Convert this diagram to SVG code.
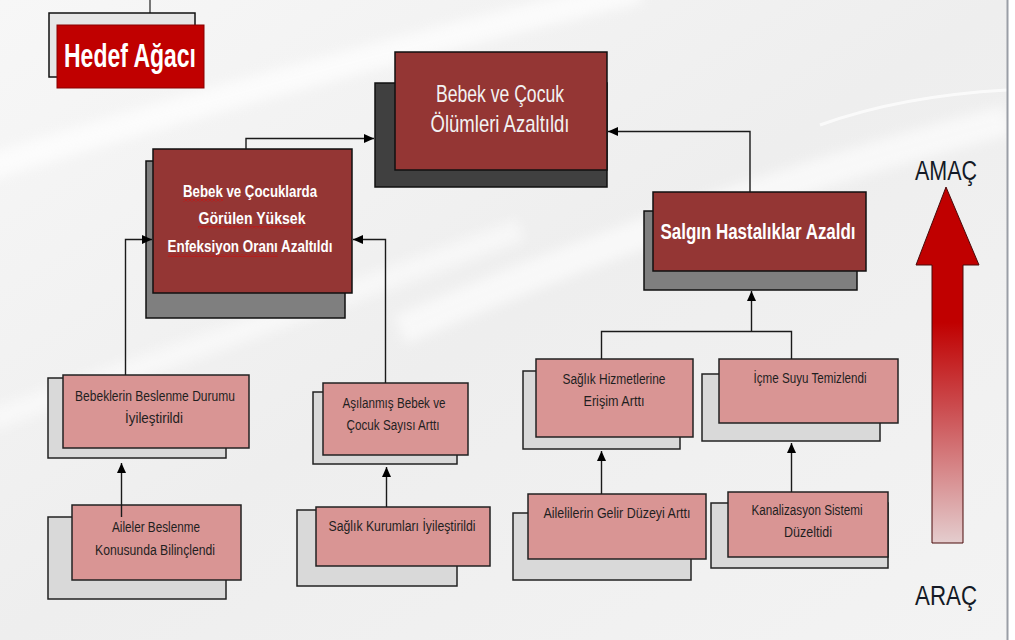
<svg xmlns="http://www.w3.org/2000/svg" width="1015" height="640" viewBox="0 0 1015 640">
<style>
.t{font-family:"Liberation Sans",Arial,sans-serif;text-anchor:middle}
.dark{fill:#943634;stroke:#111;stroke-width:1.5}
.pink{fill:#D99594;stroke:#222;stroke-width:1.5}
.back{fill:#D9D9D9;stroke:#222;stroke-width:1.5}
.gray{fill:#7F7F7F;stroke:#111;stroke-width:1.5}
.sm{font-size:14px;fill:#1F1F1F}
.wb{font-size:17px;font-weight:bold;fill:#FFFFFF}
.con{fill:none;stroke:#1a1a1a;stroke-width:1.4}
</style>
<defs>
<linearGradient id="bg" x1="0" y1="0" x2="1" y2="1">
<stop offset="0" stop-color="#F7F7F7"/>
<stop offset="0.5" stop-color="#EEEEEE"/>
<stop offset="1" stop-color="#F3F3F3"/>
</linearGradient>
<linearGradient id="ar" gradientUnits="userSpaceOnUse" x1="0" y1="187" x2="0" y2="543">
<stop offset="0" stop-color="#C00000"/>
<stop offset="0.38" stop-color="#C00000"/>
<stop offset="0.62" stop-color="#CB4C4F"/>
<stop offset="1" stop-color="#E4CDCE"/>
</linearGradient>
<filter id="blur" x="-10%" y="-50%" width="120%" height="200%"><feGaussianBlur stdDeviation="6"/></filter>
<pattern id="sq" width="4" height="3" patternUnits="userSpaceOnUse"><path d="M0 0.5 L2 2.5 L4 0.5" fill="none" stroke="#E00000" stroke-width="0.8"/></pattern>
<marker id="arr" markerUnits="userSpaceOnUse" markerWidth="11" markerHeight="10" refX="10" refY="4.5" orient="auto"><path d="M0 0 L10 4.5 L0 9 Z" fill="#000"/></marker>
</defs>

<g id="background">
<rect x="0" y="0" width="1015" height="640" fill="#FFFFFF"/>
<rect x="0" y="0" width="1007" height="640" fill="url(#bg)"/>
<path d="M-20 170 Q 300 70 640 -10" fill="none" stroke="#FFFFFF" stroke-width="26" opacity="0.7" filter="url(#blur)"/>
<path d="M400 330 Q 700 200 1007 120" fill="none" stroke="#FFFFFF" stroke-width="30" opacity="0.6" filter="url(#blur)"/>
<path d="M-10 420 Q 250 330 520 230" fill="none" stroke="#FFFFFF" stroke-width="22" opacity="0.5" filter="url(#blur)"/>
<path d="M820 125 Q 900 96 1007 90" fill="none" stroke="#FFFFFF" stroke-width="3" opacity="0.7"/>
<line x1="1007.5" y1="0" x2="1007.5" y2="640" stroke="#9A9EA6" stroke-width="2"/>
</g>

<g id="title">
<line x1="150" y1="0" x2="150" y2="13" stroke="#222" stroke-width="1.2"/>
<rect x="49" y="13" width="146" height="64" fill="#E6E6E6" stroke="#111" stroke-width="1.5"/>
<rect x="57" y="25" width="147" height="63" fill="#C00000" stroke="#8a0000" stroke-width="1"/>
<text class="t" x="130" y="67" font-size="33" font-weight="bold" fill="#FFFFFF" textLength="132" lengthAdjust="spacingAndGlyphs">Hedef Ağacı</text>
</g>

<g id="node-top">
<rect x="375" y="83" width="232" height="104" fill="#404040" stroke="#111" stroke-width="1.5"/>
<rect class="dark" x="395" y="52" width="212" height="118"/>
<text class="t" x="500" y="102" font-size="24" fill="#F2F2F2" textLength="128" lengthAdjust="spacingAndGlyphs">Bebek ve Çocuk</text>
<text class="t" x="500" y="132" font-size="24" fill="#F2F2F2" textLength="139" lengthAdjust="spacingAndGlyphs">Ölümleri Azaltıldı</text>
</g>

<g id="node-enfeksiyon">
<rect class="gray" x="146" y="161" width="199" height="157"/>
<rect class="dark" x="153" y="149" width="199" height="144"/>
<text class="t wb" x="250" y="197" textLength="134" lengthAdjust="spacingAndGlyphs">Bebek ve Çocuklarda</text>
<text class="t wb" x="252" y="224" textLength="107" lengthAdjust="spacingAndGlyphs">Görülen Yüksek</text>
<text class="t wb" x="250" y="252" textLength="165" lengthAdjust="spacingAndGlyphs">Enfeksiyon Oranı Azaltıldı</text>
<rect x="183" y="199" width="40" height="3" fill="url(#sq)"/>
<rect x="198" y="226" width="107" height="3" fill="url(#sq)"/>
<rect x="168" y="254" width="110" height="3" fill="url(#sq)"/>
</g>

<g id="node-salgin">
<rect class="gray" x="644" y="211" width="213" height="79"/>
<rect class="dark" x="653" y="192" width="213" height="79"/>
<text class="t" x="758" y="239" font-size="22" font-weight="bold" fill="#FFFFFF" textLength="195" lengthAdjust="spacingAndGlyphs">Salgın Hastalıklar Azaldı</text>
</g>

<g id="node-beslenme">
<rect class="back" x="48" y="378" width="178" height="80"/>
<rect class="pink" x="63" y="375" width="186" height="73"/>
<text class="t sm" x="155" y="401" textLength="160" lengthAdjust="spacingAndGlyphs">Bebeklerin Beslenme Durumu</text>
<text class="t sm" x="154" y="423" textLength="58" lengthAdjust="spacingAndGlyphs">İyileştirildi</text>
</g>

<g id="node-aileler">
<rect class="back" x="48" y="517" width="178" height="82"/>
<rect class="pink" x="72" y="505" width="169" height="75"/>
<text class="t sm" x="156" y="532" textLength="88" lengthAdjust="spacingAndGlyphs">Aileler Beslenme</text>
<text class="t sm" x="155" y="555" textLength="120" lengthAdjust="spacingAndGlyphs">Konusunda Bilinçlendi</text>
</g>

<g id="node-asilanmis">
<rect class="back" x="313" y="392" width="144" height="72"/>
<rect class="pink" x="323" y="383" width="145" height="72"/>
<text class="t sm" x="394" y="408" textLength="103" lengthAdjust="spacingAndGlyphs">Aşılanmış Bebek ve</text>
<text class="t sm" x="393" y="430" textLength="93" lengthAdjust="spacingAndGlyphs">Çocuk Sayısı Arttı</text>
</g>

<g id="node-saglik-kurumlari">
<rect class="back" x="297" y="510" width="160" height="76"/>
<rect class="pink" x="316" y="507" width="174" height="59"/>
<text class="t sm" x="402" y="531" textLength="147" lengthAdjust="spacingAndGlyphs">Sağlık Kurumları İyileştirildi</text>
</g>

<g id="node-saglik-hizmet">
<rect class="back" x="523" y="371" width="157" height="78"/>
<rect class="pink" x="536" y="359" width="157" height="78"/>
<text class="t sm" x="614" y="384" textLength="103" lengthAdjust="spacingAndGlyphs">Sağlık Hizmetlerine</text>
<text class="t sm" x="614" y="406" textLength="61" lengthAdjust="spacingAndGlyphs">Erişim Arttı</text>
</g>

<g id="node-icme">
<rect class="back" x="702" y="374" width="178" height="67"/>
<rect class="pink" x="719" y="359" width="179" height="64"/>
<text class="t sm" x="810" y="383" textLength="113" lengthAdjust="spacingAndGlyphs">İçme Suyu Temizlendi</text>
</g>

<g id="node-gelir">
<rect class="back" x="513" y="513" width="178" height="67"/>
<rect class="pink" x="528" y="494" width="178" height="65"/>
<text class="t sm" x="617" y="518" textLength="147" lengthAdjust="spacingAndGlyphs">Ailelilerin Gelir Düzeyi Arttı</text>
</g>

<g id="node-kanalizasyon">
<rect class="back" x="711" y="503" width="177" height="65"/>
<rect class="pink" x="728" y="492" width="160" height="65"/>
<text class="t sm" x="807" y="515" textLength="111" lengthAdjust="spacingAndGlyphs">Kanalizasyon Sistemi</text>
<text class="t sm" x="808" y="537" textLength="48" lengthAdjust="spacingAndGlyphs">Düzeltidi</text>
</g>

<g id="connectors">
<path class="con" d="M246 149 V138.5 H374" marker-end="url(#arr)"/>
<path class="con" d="M750 192 V131.5 H608" marker-end="url(#arr)"/>
<path class="con" d="M125.5 375 V239.5 H152" marker-end="url(#arr)"/>
<path class="con" d="M385.5 383 V239.5 H353" marker-end="url(#arr)"/>
<path class="con" d="M121.5 517 V463" marker-end="url(#arr)"/>
<path class="con" d="M386.5 507 V467" marker-end="url(#arr)"/>
<path class="con" d="M601.5 359 V331.5 H791.5 V359"/>
<path class="con" d="M751.5 331.5 V291" marker-end="url(#arr)"/>
<path class="con" d="M601.5 494 V451" marker-end="url(#arr)"/>
<path class="con" d="M791.5 492 V443" marker-end="url(#arr)"/>
</g>

<g id="scale">
<text class="t" x="946" y="180" font-size="27" fill="#141a26" textLength="62" lengthAdjust="spacingAndGlyphs">AMAÇ</text>
<path d="M946 187 L979 265 L963 265 L963 543 L932 543 L932 265 L916 265 Z" fill="url(#ar)" stroke="#4a0a0a" stroke-width="1"/>
<text class="t" x="946" y="605" font-size="27" fill="#141a26" textLength="62" lengthAdjust="spacingAndGlyphs">ARAÇ</text>
</g>
</svg>
